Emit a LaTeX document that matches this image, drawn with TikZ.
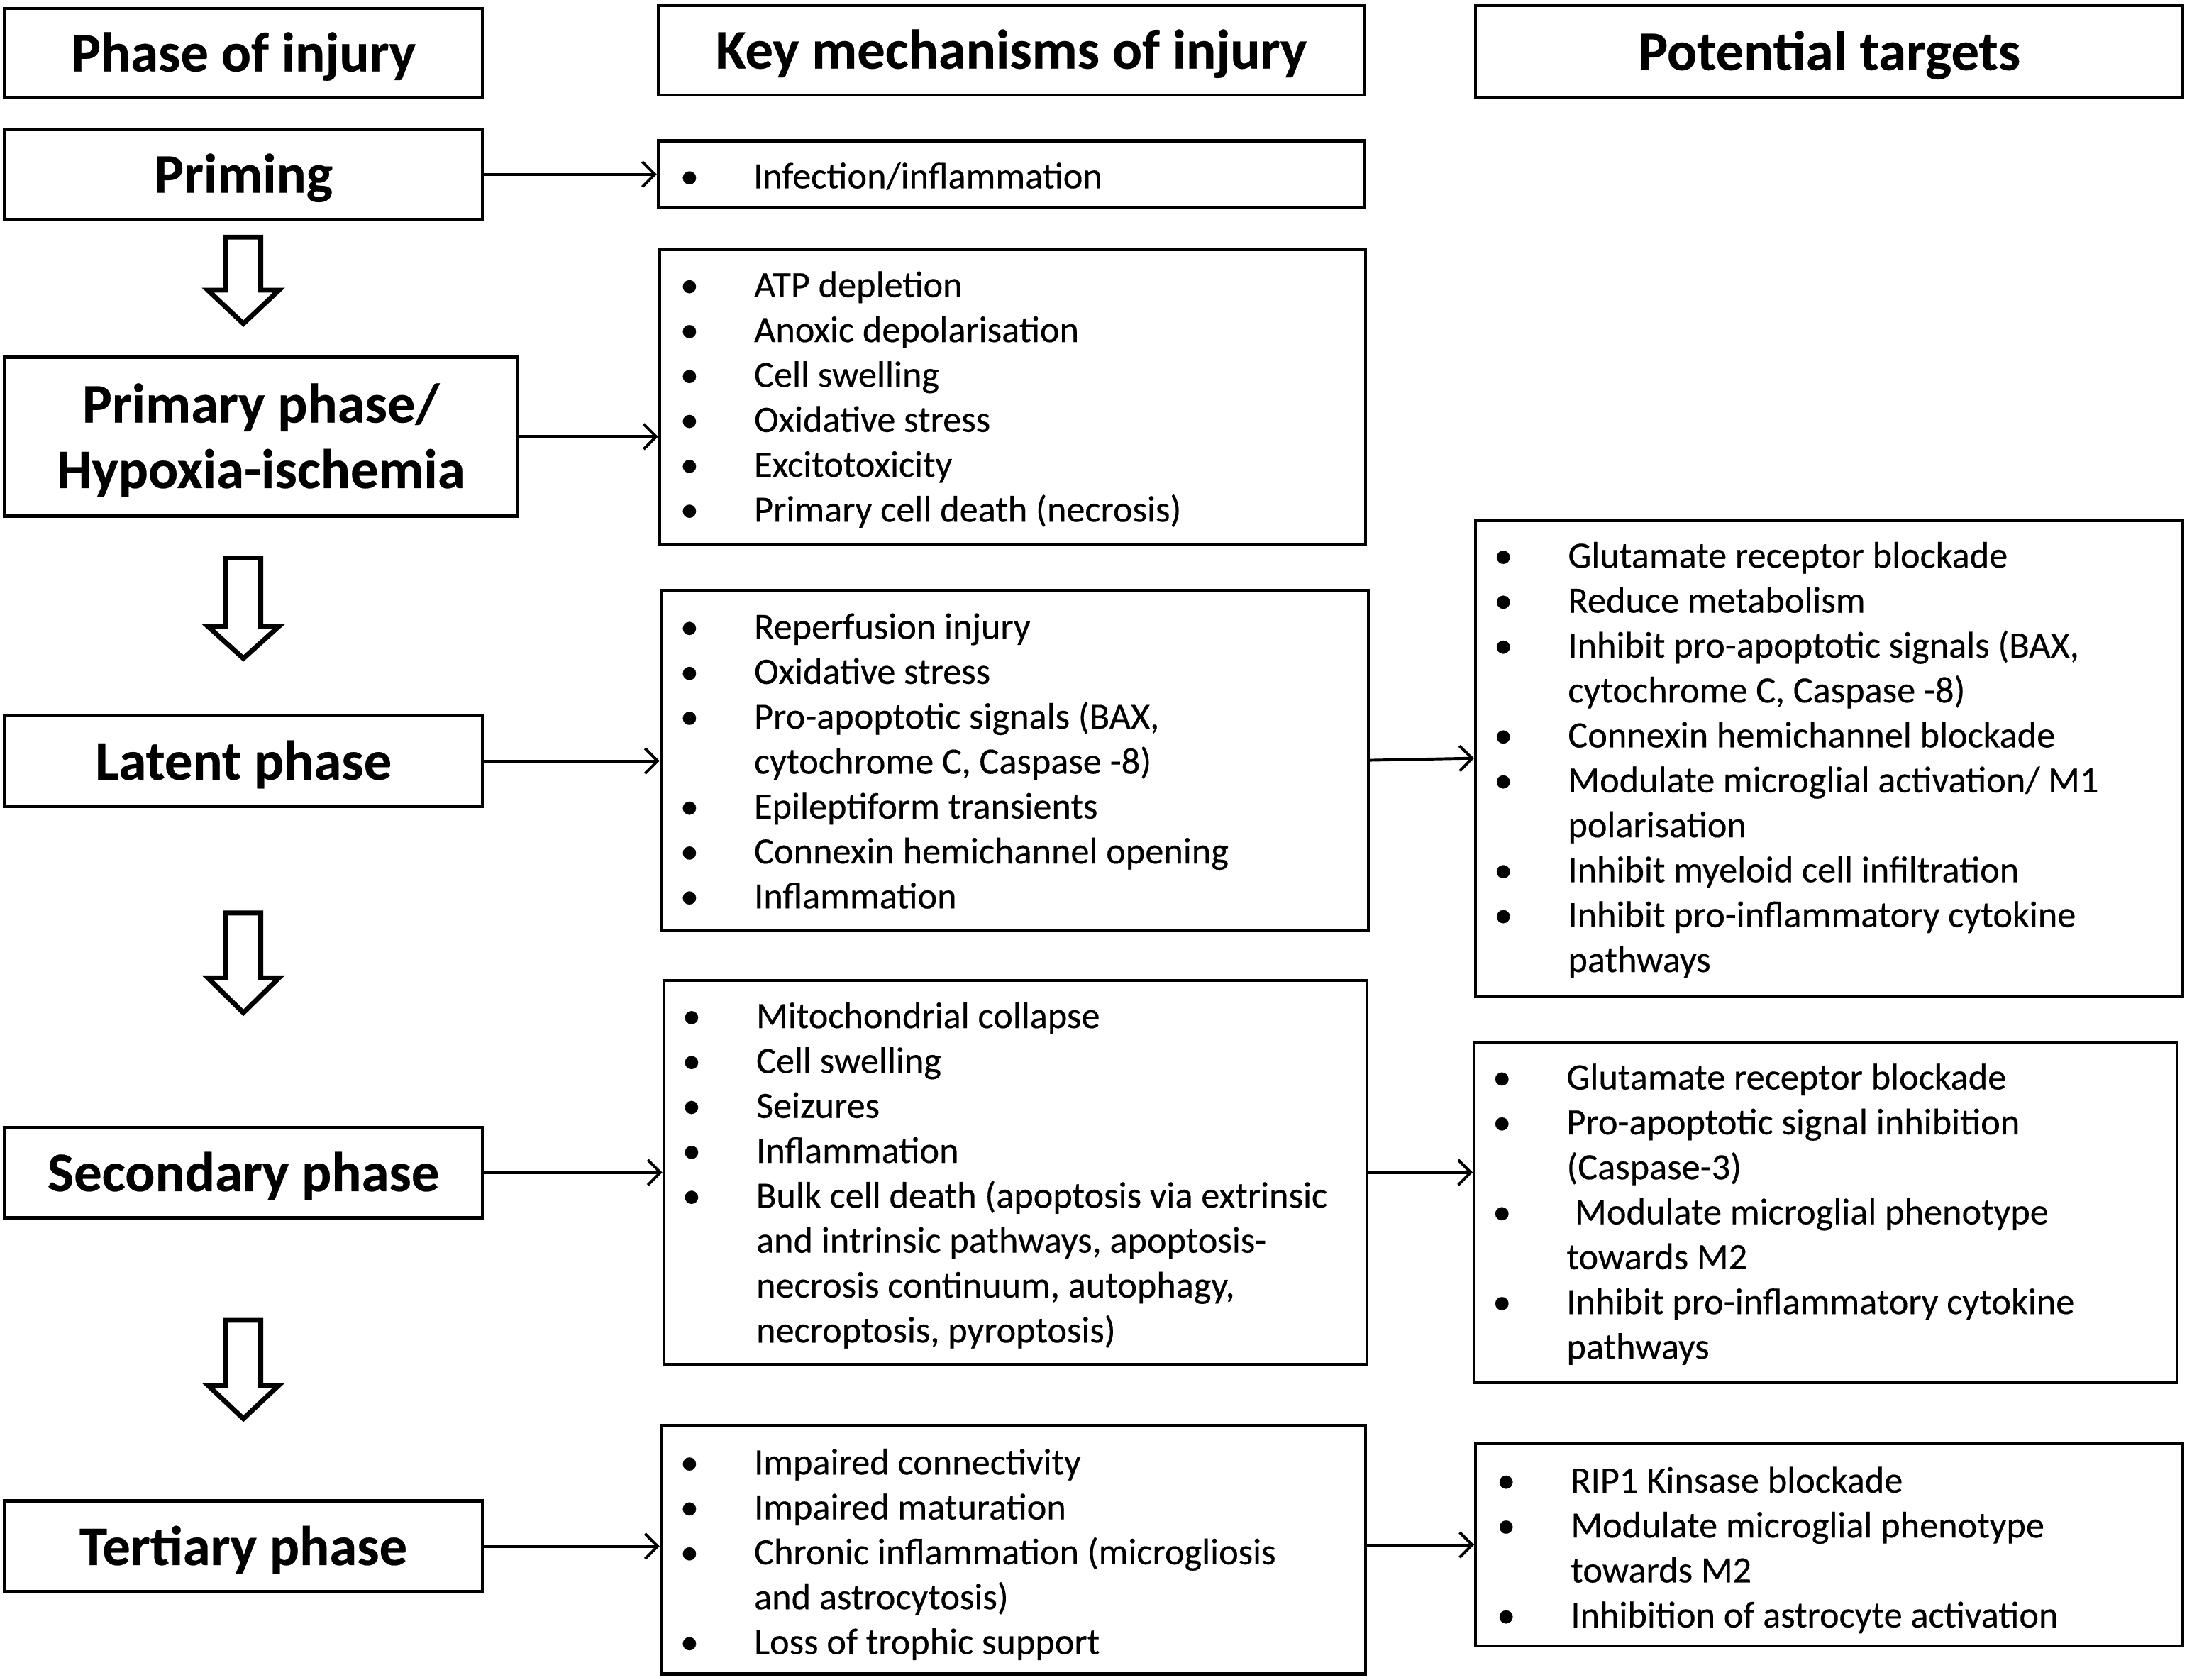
\documentclass[tikz,border=0pt]{standalone}
\usepackage{fontspec}
\setmainfont{Carlito}[FakeBold=0.3]
\usetikzlibrary{arrows.meta}
\newcommand{\lowr}[1]{\raisebox{-2.5pt}[\height][\depth]{#1}}
\begin{document}
\begin{tikzpicture}[x=1pt,y=-1pt,
 phasebox/.style={draw, line width=2.2pt, inner sep=0pt, font=\fontsize{40}{47}\selectfont\bfseries, align=center},
 listbox/.style={draw, line width=2.2pt, inner sep=0pt},
 listtext/.style={inner sep=0pt, anchor=base west, font=\fontsize{26.6}{32.2}\selectfont},
 conn/.style={line width=2pt, -{Straight Barb[length=9pt,width=18pt]}},
 hollow/.style={draw, line width=3.5pt, line join=miter, fill=white}]
\useasboundingbox (0,0) rectangle (1568,1204);

% column 1
\node[phasebox, minimum width=343pt, minimum height=64pt] (h1) at (174.5,38) {\lowr{Phase of injury}};
\node[phasebox, minimum width=343pt, minimum height=64pt] (p1) at (174.5,125) {\lowr{Priming}};
\node[phasebox, minimum width=368pt, minimum height=114pt] (p2) at (187,313) {\lowr{Primary phase/}\\\lowr{Hypoxia-ischemia}};
\node[phasebox, minimum width=343pt, minimum height=65pt] (p3) at (174.5,545.5) {\lowr{Latent phase}};
\node[phasebox, minimum width=343pt, minimum height=65pt] (p4) at (174.5,840.5) {\lowr{Secondary phase}};
\node[phasebox, minimum width=343pt, minimum height=65pt] (p5) at (174.5,1108.5) {\lowr{Tertiary phase}};

% hollow arrows
\foreach \yt/\yh/\yb in {170/208/232, 400/449/472, 654.5/701/726, 946.5/993/1017}{
  \draw[hollow] (162,\yt) -- (187,\yt) -- (187,\yh) -- (200,\yh) -- (174.5,\yb) -- (149,\yh) -- (162,\yh) -- cycle;
}

% column 2
\node[phasebox, minimum width=506pt, minimum height=64pt] (h2) at (725,36) {\lowr{Key mechanisms of injury}};
\node[listbox, minimum width=506pt, minimum height=48pt] (m1) at (725,125) {};
\node[listbox, minimum width=506pt, minimum height=211pt] (m2) at (726,284.5) {};
\node[listbox, minimum width=507pt, minimum height=244pt] (m3) at (727.5,545) {};
\node[listbox, minimum width=504pt, minimum height=275pt] (m4) at (728,840.5) {};
\node[listbox, minimum width=505pt, minimum height=178pt] (m5) at (726.5,1111) {};

\node[listtext] (m1t) at (487.5,135) {\begin{tabular}[t]{@{}p{52.5pt}@{}l@{}}
\textbullet & Infection/inflammation
\end{tabular}};
\node[listtext] (m2t) at (487.5,213) {\begin{tabular}[t]{@{}p{53pt}@{}l@{}}
\textbullet & ATP depletion\\
\textbullet & Anoxic depolarisation\\
\textbullet & Cell swelling\\
\textbullet & Oxidative stress\\
\textbullet & Excitotoxicity\\
\textbullet & Primary cell death (necrosis)
\end{tabular}};
\node[listtext] (m3t) at (487.5,458) {\begin{tabular}[t]{@{}p{53pt}@{}l@{}}
\textbullet & Reperfusion injury\\
\textbullet & Oxidative stress\\
\textbullet & Pro-apoptotic signals (BAX,\\
 & cytochrome C, Caspase -8)\\
\textbullet & Epileptiform transients\\
\textbullet & Connexin hemichannel opening\\
\textbullet & Inflammation
\end{tabular}};
\node[listtext] (m4t) at (489,737) {\begin{tabular}[t]{@{}p{53pt}@{}l@{}}
\textbullet & Mitochondrial collapse\\
\textbullet & Cell swelling\\
\textbullet & Seizures\\
\textbullet & Inflammation\\
\textbullet & Bulk cell death (apoptosis via extrinsic\\
 & and intrinsic pathways, apoptosis-\\
 & necrosis continuum, autophagy,\\
 & necroptosis, pyroptosis)
\end{tabular}};
\node[listtext] (m5t) at (487.5,1057) {\begin{tabular}[t]{@{}p{53pt}@{}l@{}}
\textbullet & Impaired connectivity\\
\textbullet & Impaired maturation\\
\textbullet & Chronic inflammation (microgliosis\\
 & and astrocytosis)\\
\textbullet & Loss of trophic support
\end{tabular}};

% column 3
\node[phasebox, minimum width=507pt, minimum height=66pt] (h3) at (1311.5,37) {\lowr{Potential targets}};
\node[listbox, minimum width=507pt, minimum height=341pt] (tA) at (1311.5,543.5) {};
\node[listbox, minimum width=504pt, minimum height=244pt] (tB) at (1309,869) {};
\node[listbox, minimum width=507pt, minimum height=145pt] (tC) at (1311.5,1107.5) {};

\node[listtext] (tAt) at (1071,407) {\begin{tabular}[t]{@{}p{53pt}@{}l@{}}
\textbullet & Glutamate receptor blockade\\
\textbullet & Reduce metabolism\\
\textbullet & Inhibit pro-apoptotic signals (BAX,\\
 & cytochrome C, Caspase -8)\\
\textbullet & Connexin hemichannel blockade\\
\textbullet & Modulate microglial activation/ M1\\
 & polarisation\\
\textbullet & Inhibit myeloid cell infiltration\\
\textbullet & Inhibit pro-inflammatory cytokine\\
 & pathways
\end{tabular}};
\node[listtext] (tBt) at (1070,781) {\begin{tabular}[t]{@{}p{53pt}@{}l@{}}
\textbullet & Glutamate receptor blockade\\
\textbullet & Pro-apoptotic signal inhibition\\
 & (Caspase-3)\\
\textbullet & \hspace{6pt}Modulate microglial phenotype\\
 & towards M2\\
\textbullet & Inhibit pro-inflammatory cytokine\\
 & pathways
\end{tabular}};
\node[listtext] (tCt) at (1073,1070) {\begin{tabular}[t]{@{}p{53pt}@{}l@{}}
\textbullet & RIP1 Kinsase blockade\\
\textbullet & Modulate microglial phenotype\\
 & towards M2\\
\textbullet & Inhibition of astrocyte activation
\end{tabular}};

% connectors
\draw[conn] (p1.east) -- (m1.west);
\draw[conn] (p2.east) -- (p2.east -| m2.west);
\draw[conn] (p3.east) -- (p3.east -| m3.west);
\draw[conn] (p4.east) -- (p4.east -| m4.west);
\draw[conn] (p5.east) -- (p5.east -| m5.west);
\draw[conn] (m3.east) -- (tA.west);
\draw[conn] (m4.east) -- (m4.east -| tB.west);
\draw[conn] (tC.west -| m5.east) -- (tC.west);
\end{tikzpicture}
\end{document}
